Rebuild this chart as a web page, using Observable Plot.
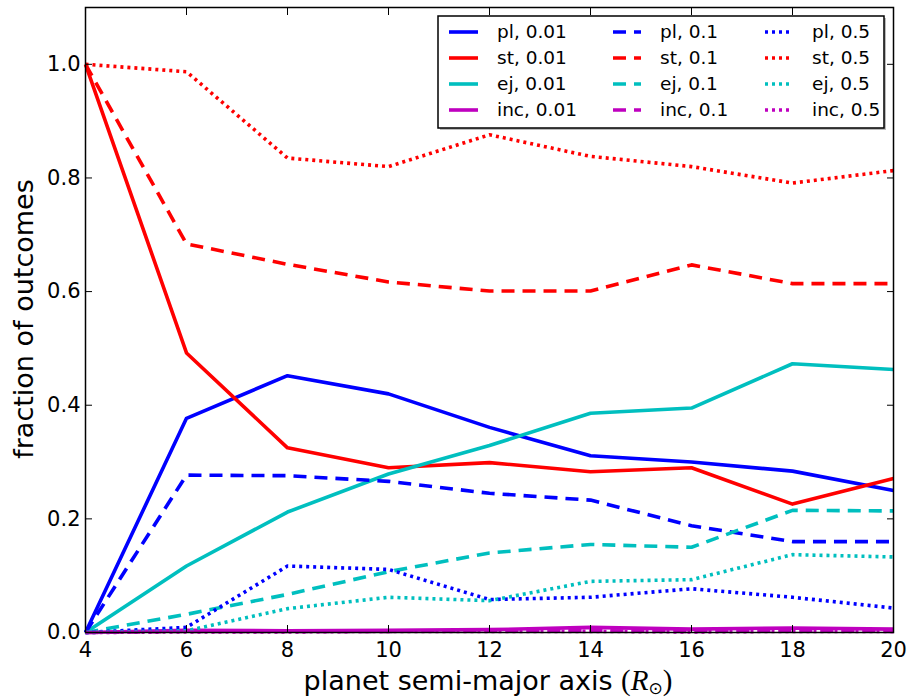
<!DOCTYPE html>
<html><head><meta charset="utf-8">
<script src="https://cdn.jsdelivr.net/npm/d3@7"></script>
<script src="https://cdn.jsdelivr.net/npm/@observablehq/plot@0.6"></script>
<style>
body{margin:0;background:#fff;}
#chart{width:910px;height:698px;}
</style>
</head><body><div id="chart"></div>
<script>
// ---- data ----
const semiMajorAxis = [4, 6, 8, 10, 12, 14, 16, 18, 20];
const pl001  = [0.0, 0.377, 0.452, 0.420, 0.361, 0.311, 0.300, 0.284, 0.250];
const st001  = [1.0, 0.492, 0.325, 0.290, 0.299, 0.283, 0.290, 0.226, 0.271];
const ej001  = [0.0, 0.117, 0.212, 0.279, 0.329, 0.386, 0.395, 0.473, 0.463];
const inc001 = [0.0, 0.004, 0.003, 0.004, 0.005, 0.009, 0.006, 0.008, 0.006];
const pl01   = [0.0, 0.277, 0.276, 0.266, 0.245, 0.233, 0.188, 0.160, 0.160];
const st01   = [1.0, 0.684, 0.648, 0.617, 0.601, 0.601, 0.647, 0.614, 0.614];
const ej01   = [0.0, 0.032, 0.067, 0.107, 0.140, 0.155, 0.150, 0.215, 0.214];
const inc01  = [0.0, 0.002, 0.002, 0.002, 0.003, 0.003, 0.002, 0.003, 0.002];
const pl05   = [0.0, 0.009, 0.117, 0.111, 0.058, 0.062, 0.077, 0.062, 0.043];
const st05   = [1.0, 0.987, 0.835, 0.820, 0.876, 0.838, 0.820, 0.791, 0.813];
const ej05   = [0.0, 0.003, 0.042, 0.062, 0.056, 0.090, 0.093, 0.137, 0.133];
const inc05  = [0.0, 0.001, 0.001, 0.002, 0.002, 0.002, 0.001, 0.002, 0.002];
const xTicks = [4, 6, 8, 10, 12, 14, 16, 18, 20];
const yTicks = [0.0, 0.2, 0.4, 0.6, 0.8, 1.0];
const outcomes = ["pl", "st", "ej", "inc"];
const params = ["0.01", "0.1", "0.5"];

// ---- styles ----
const colors = {pl: "#0000ff", st: "#ff0000", ej: "#00bfbf", inc: "#bf00bf"};
const dashes = {"0.01": null, "0.1": "13,8", "0.5": "3,4"};
const lw = 3.6;

const seriesValues = {
  "pl|0.01": pl001, "st|0.01": st001, "ej|0.01": ej001, "inc|0.01": inc001,
  "pl|0.1": pl01, "st|0.1": st01, "ej|0.1": ej01, "inc|0.1": inc01,
  "pl|0.5": pl05, "st|0.5": st05, "ej|0.5": ej05, "inc|0.5": inc05
};

const lineMarks = [];
for (const p of params) {
  for (const o of outcomes) {
    const vals = seriesValues[o + "|" + p];
    const rows = semiMajorAxis.map((a, i) => ({a, v: vals[i]}));
    lineMarks.push(Plot.line(rows, {
      x: "a", y: "v", stroke: colors[o], strokeWidth: lw,
      strokeDasharray: dashes[p], strokeLinecap: "butt", strokeLinejoin: "round"
    }));
  }
}

const chart = Plot.plot({
  width: 910, height: 698,
  marginLeft: 85, marginRight: 17, marginTop: 7, marginBottom: 66,
  style: {fontFamily: "'DejaVu Sans', sans-serif", fontSize: "21px", color: "#000", background: "#fff"},
  x: {domain: [4, 20]},
  y: {domain: [0, 1.1]},
  marks: [
    ...lineMarks,
    Plot.axisX(xTicks, {anchor: "bottom", tickSize: -7, tickPadding: 17, label: null, tickFormat: d3.format("d"), stroke: "#000"}),
    Plot.axisX(xTicks, {anchor: "top", tickSize: -7, label: null, tickFormat: () => "", stroke: "#000"}),
    Plot.axisY(yTicks, {anchor: "left", tickSize: -7, tickPadding: 12, label: null, tickFormat: d3.format(".1f"), stroke: "#000"}),
    Plot.axisY(yTicks, {anchor: "right", tickSize: -7, label: null, tickFormat: () => "", stroke: "#000"}),
    Plot.frame({stroke: "#000", strokeWidth: 1.5})
  ]
});

const svg = d3.select(chart);
// enlarge tick labels (only texts present so far)
svg.selectAll("g").attr("font-size", null);
svg.selectAll("text").style("font-size", "21px").style("font-family", "'DejaVu Sans', sans-serif");

// axis labels
svg.append("text")
  .attr("transform", "translate(33,319) rotate(-90)")
  .attr("text-anchor", "middle")
  .style("font-family", "'DejaVu Sans', sans-serif")
  .style("font-size", "27px")
  .attr("fill", "#000")
  .text("fraction of outcomes");

const xl = svg.append("text")
  .attr("x", 488).attr("y", 690)
  .attr("text-anchor", "middle")
  .style("font-family", "'DejaVu Sans', sans-serif")
  .style("font-size", "27px")
  .attr("fill", "#000");
xl.append("tspan").text("planet semi-major axis ");
xl.append("tspan").style("font-family", "'Liberation Serif', serif").style("font-size", "29px").text("(");
xl.append("tspan").style("font-family", "'Liberation Serif', serif").style("font-style", "italic").style("font-size", "29px").text("R");
xl.append("tspan").style("font-family", "'DejaVu Sans', sans-serif").style("font-size", "17px").attr("dy", 4).text("\u2299");
xl.append("tspan").style("font-family", "'Liberation Serif', serif").style("font-size", "29px").attr("dy", -4).text(")");

// legend
const lg = svg.append("g").attr("text-anchor", "start");
lg.append("rect").attr("x", 440).attr("y", 18).attr("width", 446).attr("height", 112).attr("fill", "#bbb");
lg.append("rect").attr("x", 438).attr("y", 16).attr("width", 446).attr("height", 112)
  .attr("fill", "#fff").attr("stroke", "#000").attr("stroke-width", 1.5);
const colLine = [[449, 478], [613, 641], [765, 792]];
const colText = [497, 660, 812];
const rowY = [32, 58, 84, 110];
params.forEach((p, c) => {
  outcomes.forEach((o, r) => {
    lg.append("line")
      .attr("x1", colLine[c][0]).attr("x2", colLine[c][1])
      .attr("y1", rowY[r]).attr("y2", rowY[r])
      .attr("stroke", colors[o]).attr("stroke-width", lw)
      .attr("stroke-dasharray", dashes[p]);
    lg.append("text")
      .attr("x", colText[c]).attr("y", rowY[r])
      .attr("dy", "0.35em")
      .attr("text-anchor", "start")
      .style("font-family", "'DejaVu Sans', sans-serif")
      .style("font-size", "18.5px")
      .attr("fill", "#000")
      .text(o + ", " + p);
  });
});

document.getElementById("chart").appendChild(chart);
</script>
</body></html>
